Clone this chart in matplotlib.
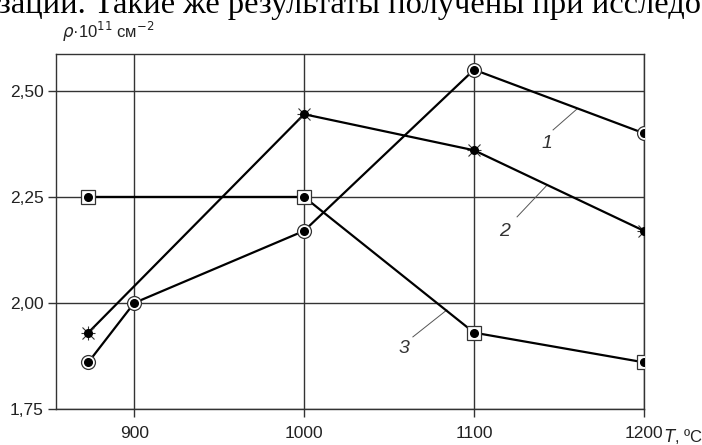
import matplotlib
matplotlib.use('Agg')
import matplotlib.pyplot as plt

### Data
T1 = [873, 900, 1000, 1100, 1200]
rho1 = [1.86, 2.00, 2.17, 2.55, 2.40]

T2 = [873, 1000, 1100, 1200]
rho2 = [1.93, 2.445, 2.36, 2.17]

T3 = [873, 1000, 1100, 1200]
rho3 = [2.25, 2.25, 1.93, 1.86]

xticks = [900, 1000, 1100, 1200]
yticks = [1.75, 2.00, 2.25, 2.50]
ytick_labels = ['1,75', '2,00', '2,25', '2,50']

narrow = ['Liberation Sans', 'DejaVu Sans']

fig = plt.figure(figsize=(7.02, 4.45), dpi=100)
ax = fig.add_axes([56/702, 36/445, 588/702, 355/445])

ax.set_xlim(854, 1200)
ax.set_ylim(1.75, 2.587)
ax.set_xticks(xticks)
ax.set_yticks(yticks)
ax.set_xticklabels([str(t) for t in xticks], fontsize=12.5, family=narrow, color='#222222')
ax.set_yticklabels(ytick_labels, fontsize=12.5, family=narrow, color='#222222')
ax.tick_params(direction='out', length=6, width=1, color='#333333', pad=3)
ax.tick_params(axis='x', pad=6)
ax.grid(True, color='#333333', linewidth=1.0)
for s in ax.spines.values():
    s.set_color('#333333')
    s.set_linewidth(1.0)

### curves
ax.plot(T1, rho1, 'k-', lw=1.6, zorder=3)
ax.plot(T2, rho2, 'k-', lw=1.6, zorder=3)
ax.plot(T3, rho3, 'k-', lw=1.6, zorder=3)

# curve 1: circle with dot
ax.plot(T1, rho1, 'o', ms=10, mfc='white', mec='#333333', mew=0.9, zorder=4)
ax.plot(T1, rho1, 'o', ms=5.5, color='k', zorder=5)
# curve 2: star
ax.plot(T2, rho2, 'x', ms=9, color='#333333', mew=0.8, zorder=4)
ax.plot(T2, rho2, '+', ms=10, color='#333333', mew=0.8, zorder=4)
ax.plot(T2, rho2, 'o', ms=5.5, color='k', zorder=5)
# curve 3: square with dot
ax.plot(T3, rho3, 's', ms=10, mfc='white', mec='#333333', mew=0.9, zorder=4)
ax.plot(T3, rho3, 'o', ms=5.5, color='k', zorder=5)

### curve numbers with leaders
labels = [('1', (1160.6, 2.4575), (1146.5, 2.408), (1143, 2.375)),
          ('2', (1143, 2.278), (1125.3, 2.203), (1118, 2.168)),
          ('3', (1084, 1.9835), (1064, 1.92), (1059, 1.892))]
for txt, p0, p1, pt in labels:
    ax.plot([p0[0], p1[0]], [p0[1], p1[1]], color='#555555', lw=0.7, zorder=2)
    ax.text(pt[0], pt[1], txt, fontsize=14, style='italic', family=narrow,
            color='#333333', ha='center', va='center')

### axis titles
fig.text(62/702, 1 - 32/445, r'$\rho$·10$^{11}$ см$^{-2}$', fontsize=12,
         family=narrow, color='#222222', va='center', ha='left')
fig.text(664/702, 1 - 436/445, r'$T$, ºC', fontsize=12, family=narrow,
         color='#222222', va='center', ha='left')

### cropped text line from the page above
fig.text(-0.003, 1 - 13/445, 'зации. Такие же результаты получены при исследо',
         fontsize=23.4, family='Liberation Serif', color='black',
         va='baseline', ha='left')

fig.savefig('out.png', dpi=100)
